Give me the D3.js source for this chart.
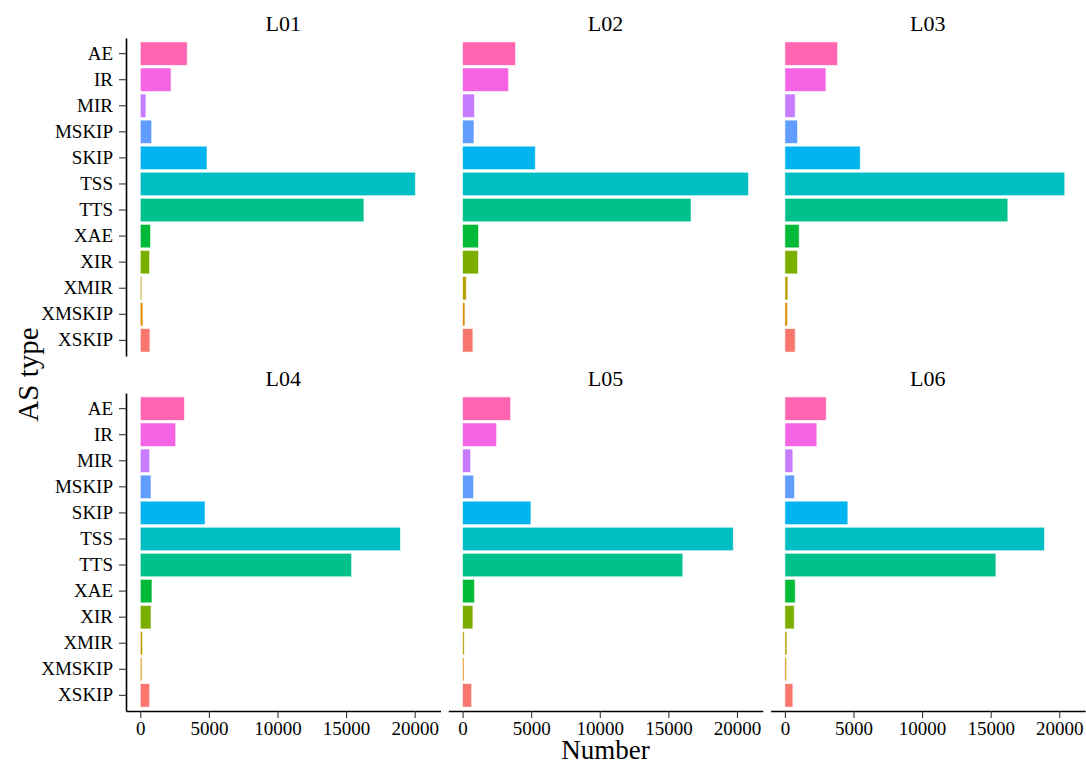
<!DOCTYPE html>
<html>
<head>
<meta charset="utf-8">
<script src="https://cdn.jsdelivr.net/npm/d3@7"></script>
<style>
  html, body { margin: 0; padding: 0; background: #fff; }
  svg { display: block; font-family: "Liberation Serif", "Times New Roman", serif; }
</style>
</head>
<body>
<svg id="chart" width="1086" height="765"></svg>
<script>
// AS event categories, top to bottom
const categories = ["AE", "IR", "MIR", "MSKIP", "SKIP", "TSS", "TTS", "XAE", "XIR", "XMIR", "XMSKIP", "XSKIP"];
// Fill colours per category (hue palette, assigned from the bottom category upward)
const colors = ["#FF64B0", "#F564E3", "#C77CFF", "#619CFF", "#00B4F0", "#00BFC4", "#00C08B", "#00BA38", "#7CAE00", "#B79F00", "#DE8C00", "#F8766D"];

const samples = ["L01", "L02", "L03", "L04", "L05", "L06"];
// Number of events per category, one array per sample
const L01 = [3420, 2240, 410, 830, 4860, 20050, 16300, 750, 680, 110, 190, 700];
const L02 = [3860, 3350, 870, 830, 5300, 20840, 16650, 1160, 1160, 270, 170, 750];
const L03 = [3840, 2990, 750, 920, 5490, 20400, 16250, 1040, 920, 220, 190, 750];
const L04 = [3210, 2580, 680, 780, 4720, 18960, 15400, 850, 780, 170, 120, 680];
const L05 = [3500, 2480, 580, 800, 4980, 19730, 16050, 870, 750, 120, 100, 660];
const L06 = [3010, 2330, 580, 700, 4590, 18920, 15380, 750, 680, 150, 120, 580];
const values = [L01, L02, L03, L04, L05, L06];

const xTicks = [0, 5000, 10000, 15000, 20000];

const svg = d3.select("#chart");

// Facet grid geometry
const nCols = 3;
const panelW = 314.5, panelH = 318;
const colStep = 322.3;
const left0 = 126;
const rowTops = [38, 393];

// Shared scales (fixed across facets)
const maxVal = d3.max(values.flat());
const x = d3.scaleLinear()
  .domain([-0.05 * maxVal, 1.05 * maxVal])
  .range([0, panelW]);
const y = d3.scaleBand()
  .domain(categories)
  .range([0, panelH])
  .paddingInner(0.1)
  .paddingOuter(0.15);
const color = d3.scaleOrdinal().domain(categories).range(colors);

samples.forEach((name, i) => {
  const col = i % nCols, row = Math.floor(i / nCols);
  const g = svg.append("g")
    .attr("transform", `translate(${left0 + col * colStep},${rowTops[row]})`);

  // strip label
  g.append("text")
    .attr("x", panelW / 2)
    .attr("y", -15)
    .attr("dy", "0.35em")
    .attr("text-anchor", "middle")
    .attr("font-size", 22)
    .attr("fill", "#000")
    .text(name);

  const rows = categories.map((c, k) => ({ cat: c, val: values[i][k] }));

  g.selectAll("rect.bar")
    .data(rows)
    .join("rect")
    .attr("class", "bar")
    .attr("x", x(0))
    .attr("y", d => y(d.cat))
    .attr("width", d => x(d.val) - x(0))
    .attr("height", y.bandwidth())
    .attr("fill", d => color(d.cat))
    .attr("stroke", "#fff")
    .attr("stroke-opacity", 0.7)
    .attr("stroke-width", 0.8);

  // y axis on the first column
  if (col === 0) {
    const ya = g.append("g")
      .call(d3.axisLeft(y).tickSize(7).tickSizeOuter(0).tickPadding(6));
    ya.select(".domain").attr("stroke", "#000").attr("stroke-width", 1.6);
    ya.selectAll(".tick line").attr("stroke", "#333").attr("stroke-width", 1.1);
    ya.selectAll(".tick text")
      .attr("font-size", 19)
      .attr("font-family", "Liberation Serif, serif")
      .attr("fill", "#000");
  }

  // x axis on the bottom row
  if (row === 1) {
    const xa = g.append("g")
      .attr("transform", `translate(0,${panelH})`)
      .call(d3.axisBottom(x).tickValues(xTicks).tickFormat(d3.format("d")).tickSize(7).tickSizeOuter(0).tickPadding(4));
    xa.select(".domain").attr("stroke", "#000").attr("stroke-width", 1.6);
    xa.selectAll(".tick line").attr("stroke", "#333").attr("stroke-width", 1.1);
    xa.selectAll(".tick text")
      .attr("font-size", 19)
      .attr("font-family", "Liberation Serif, serif")
      .attr("fill", "#000");
  }
});

// axis titles
svg.append("text")
  .attr("x", left0 + (colStep * 2 + panelW) / 2)
  .attr("y", 759)
  .attr("text-anchor", "middle")
  .attr("font-size", 27)
  .attr("fill", "#000")
  .text("Number");

svg.append("text")
  .attr("transform", `translate(28,${(rowTops[0] + rowTops[1] + panelH) / 2}) rotate(-90)`)
  .attr("dy", "0.35em")
  .attr("text-anchor", "middle")
  .attr("font-size", 29)
  .attr("fill", "#000")
  .text("AS type");
</script>
</body>
</html>
